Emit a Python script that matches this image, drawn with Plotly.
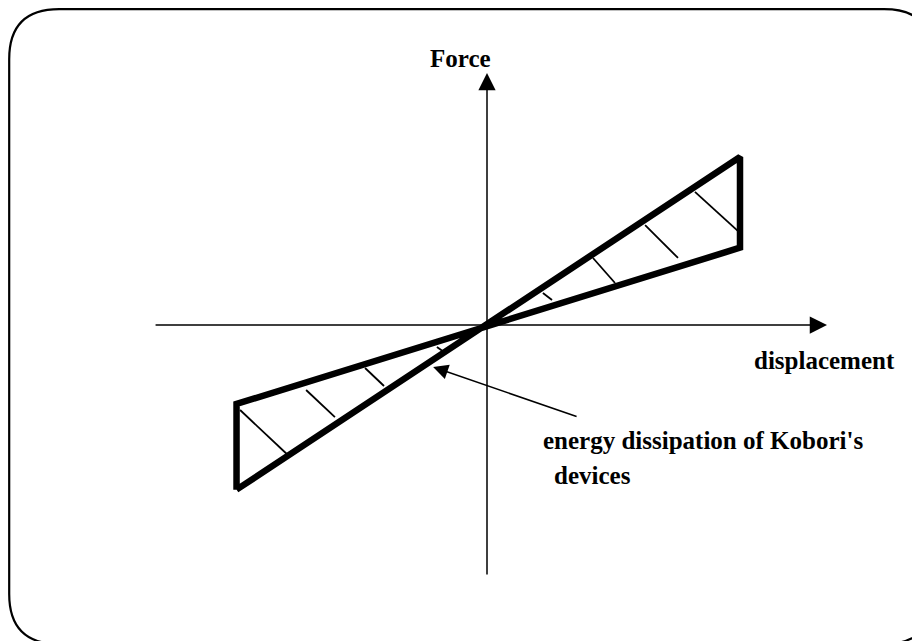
import plotly.graph_objects as go

# ---- data (normalised displacement / force units) ----
# hysteresis loop of Kobori's device: steep branch, right edge, shallow branch, left edge
loop_disp = [-0.99, 1.0, 1.0, -0.99, -0.99]
loop_force = [-0.98, 1.0, 0.46, -0.47, -0.98]

# hatching segments (start -> end)
hatch_d0 = [0.822, 0.625, 0.419, 0.221, -0.976, -0.715, -0.482, -0.198]
hatch_f0 = [0.792, 0.595, 0.399, 0.190, -0.506, -0.387, -0.256, -0.131]
hatch_d1 = [1.000, 0.755, 0.506, 0.257, -0.787, -0.601, -0.407, -0.170]
hatch_f1 = [0.548, 0.399, 0.250, 0.149, -0.774, -0.548, -0.363, -0.161]

# axes extents
disp_axis = [-1.316, 1.344]
force_axis = [-1.494, 1.50]

# pointer of the explanatory label (tail -> head)
pointer_d = [0.36, -0.213]
pointer_f = [-0.548, -0.25]

# page body has an 8px margin; ranges compensate so the drawing lands where the reference has it
x_range = [-1.8933, 1.7431]
y_range = [-1.9286, 1.8869]

fig = go.Figure()

# hatching
hx, hy = [], []
for a, b, c, d in zip(hatch_d0, hatch_f0, hatch_d1, hatch_f1):
    hx += [a, c, None]
    hy += [b, d, None]
fig.add_trace(go.Scatter(x=hx, y=hy, mode="lines",
                         line=dict(color="black", width=1.8),
                         hoverinfo="skip", showlegend=False))

# loop
fig.add_trace(go.Scatter(x=loop_disp, y=loop_force, mode="lines",
                         line=dict(color="black", width=6.5),
                         hoverinfo="skip", showlegend=False))

FONT = dict(family="Liberation Serif, Times New Roman, serif", size=25, color="black")

annotations = [
    # displacement axis
    dict(x=disp_axis[1], y=0, ax=disp_axis[0], ay=0, xref="x", yref="y",
         axref="x", ayref="y", showarrow=True, arrowhead=2, arrowsize=2.3,
         arrowwidth=1.5, arrowcolor="black", text="", standoff=0, startstandoff=0),
    # force axis
    dict(x=0, y=force_axis[1], ax=0, ay=force_axis[0], xref="x", yref="y",
         axref="x", ayref="y", showarrow=True, arrowhead=2, arrowsize=2.3,
         arrowwidth=1.5, arrowcolor="black", text="", standoff=0, startstandoff=0),
    # pointer
    dict(x=pointer_d[1], y=pointer_f[1], ax=pointer_d[0], ay=pointer_f[0], xref="x", yref="y",
         axref="x", ayref="y", showarrow=True, arrowhead=2, arrowsize=2.0,
         arrowwidth=1.5, arrowcolor="black", text="", standoff=0, startstandoff=0),
    dict(x=-0.103, y=1.589, xref="x", yref="y", text="<b>Force</b>", showarrow=False,
         xanchor="center", yanchor="middle", font=FONT),
    dict(x=1.047, y=-0.214, xref="x", yref="y", text="<b>displacement</b>", showarrow=False,
         xanchor="left", yanchor="middle", font=FONT),
    dict(x=0.213, y=-0.685, xref="x", yref="y", text="<b>energy dissipation of Kobori's</b>",
         showarrow=False, xanchor="left", yanchor="middle", font=FONT),
    dict(x=0.257, y=-0.893, xref="x", yref="y", text="<b>devices</b>", showarrow=False,
         xanchor="left", yanchor="middle", font=FONT),
]

W, H = 920, 641
# rounded frame (figure pixels)
fx0, fy0, fx1, fy1, r = 1.2, 1.2, 926, 636, 50
x0, x1 = fx0 / W, fx1 / W
y0, y1 = 1 - fy0 / H, 1 - fy1 / H
rx, ry = r / W, r / H
path = (f"M {x0 + rx},{y0} L {x1 - rx},{y0} Q {x1},{y0} {x1},{y0 - ry} "
        f"L {x1},{y1 + ry} Q {x1},{y1} {x1 - rx},{y1} "
        f"L {x0 + rx},{y1} Q {x0},{y1} {x0},{y1 + ry} "
        f"L {x0},{y0 - ry} Q {x0},{y0} {x0 + rx},{y0} Z")

fig.update_layout(
    width=W, height=H,
    margin=dict(l=0, r=0, t=0, b=0),
    paper_bgcolor="white", plot_bgcolor="white",
    xaxis=dict(range=x_range, visible=False, fixedrange=True),
    yaxis=dict(range=y_range, visible=False, fixedrange=True),
    annotations=annotations,
    shapes=[dict(type="path", path=path, xref="paper", yref="paper",
                 line=dict(color="black", width=2.2), layer="below")],
    showlegend=False,
)

fig.write_html("out.html")
